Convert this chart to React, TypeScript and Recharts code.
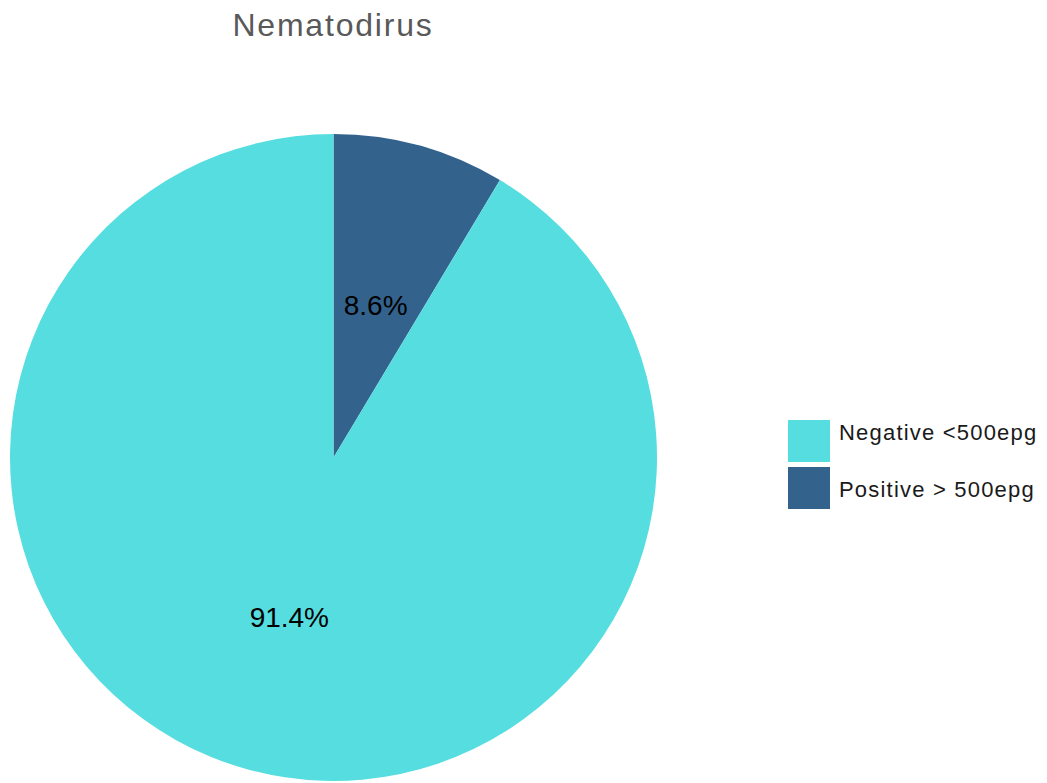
import React from 'react';
import { PieChart, Pie, Cell, Legend } from 'recharts';

const categories = ['Positive > 500epg', 'Negative <500epg'];
const values = [8.6, 91.4];
const colors = ['#33638D', '#56DDE0'];
const legendOrder = ['Negative <500epg', 'Positive > 500epg'];
const legendColors = ['#56DDE0', '#33638D'];
const title = 'Nematodirus';

const data = categories.map((name, i) => ({ name, value: values[i] }));

const RAD = Math.PI / 180;

const renderLabel = (props: any) => {
  const { cx, cy, midAngle, outerRadius, index } = props;
  const r = outerRadius * 0.5;
  const x = cx + Math.cos(-midAngle * RAD) * r - 1;
  const y = cy + Math.sin(-midAngle * RAD) * r + 4;
  return (
    <text
      x={x}
      y={y}
      textAnchor="middle"
      dominantBaseline="central"
      fill="#000000"
      fontSize={28}
      fontFamily="Liberation Sans, Arial, sans-serif"
    >
      {values[index].toFixed(1) + '%'}
    </text>
  );
};

const keyTops = [0, 47];
const textTops = [1, 58];

const renderLegend = () => (
  <div style={{ position: 'relative', width: 259, height: 92, fontFamily: 'Liberation Sans, Arial, sans-serif' }}>
    {legendOrder.map((name, i) => (
      <React.Fragment key={name}>
        <div style={{ position: 'absolute', left: 0, top: keyTops[i], width: 42, height: 42, background: legendColors[i] }} />
        <span
          style={{
            position: 'absolute',
            left: 51,
            top: textTops[i],
            fontSize: 22,
            lineHeight: '24px',
            color: '#1a1a1a',
            whiteSpace: 'nowrap',
            letterSpacing: 1.2,
          }}
        >
          {name}
        </span>
      </React.Fragment>
    ))}
  </div>
);

export default function App() {
  return (
    <div style={{ position: 'absolute', left: 0, top: 0, width: 1047, height: 783, background: '#ffffff', overflow: 'hidden' }}>
      <div
        style={{
          position: 'absolute',
          left: 183,
          width: 300,
          top: 6,
          textAlign: 'center',
          fontFamily: 'Liberation Sans, Arial, sans-serif',
          fontSize: 32,
          color: '#595959',
          whiteSpace: 'nowrap',
          lineHeight: '38px',
          letterSpacing: 1.8,
        }}
      >
        {title}
      </div>
      <PieChart width={1047} height={783} margin={{ top: 0, right: 0, bottom: 0, left: 0 }}>
        <Pie
          data={data}
          dataKey="value"
          nameKey="name"
          cx={333.5}
          cy={457.5}
          outerRadius={323.5}
          innerRadius={0}
          startAngle={90}
          endAngle={-270}
          stroke="none"
          label={renderLabel}
          labelLine={false}
          isAnimationActive={false}
        >
          {data.map((d, i) => (
            <Cell key={d.name} fill={colors[i]} />
          ))}
        </Pie>
        <Legend
          content={renderLegend}
          layout="vertical"
          wrapperStyle={{ position: 'absolute', left: 788, top: 420, width: 259 }}
        />
      </PieChart>
    </div>
  );
}
